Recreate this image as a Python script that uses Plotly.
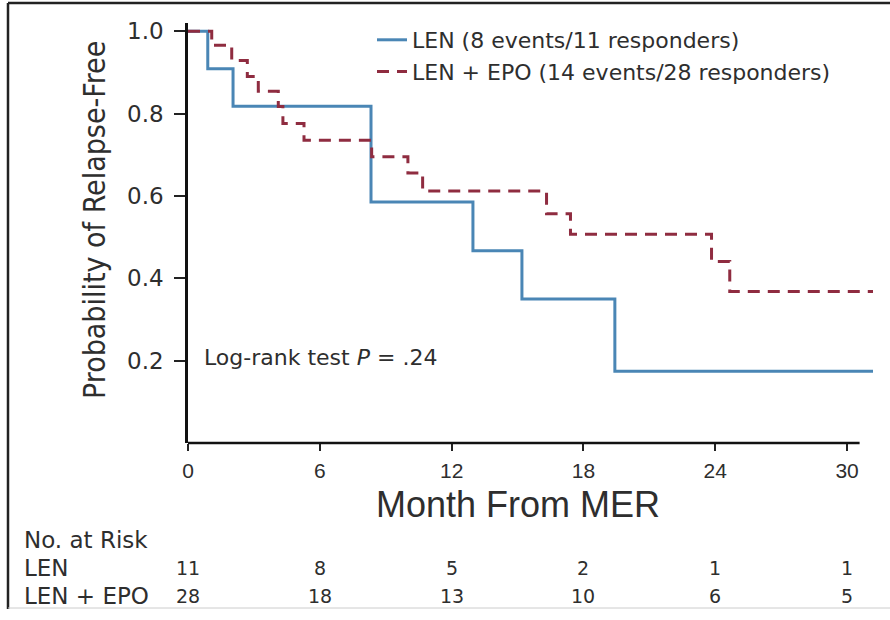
import plotly.graph_objects as go

# ---- data ----
len_time = [0, 0.9, 2.05, 8.33, 12.97, 15.2, 19.43, 31.18]
len_surv = [1.0, 0.909, 0.818, 0.585, 0.467, 0.350, 0.174, 0.174]

epo_time = [0, 1.08, 1.99, 2.70, 3.20, 4.11, 4.32, 5.28, 8.36, 10.01, 10.68,
            16.32, 17.41, 23.83, 24.66, 31.18]
epo_surv = [1.0, 0.966, 0.929, 0.890, 0.854, 0.817, 0.776, 0.735, 0.695, 0.656,
            0.612, 0.557, 0.507, 0.441, 0.368, 0.368]

x_ticks = [0, 6, 12, 18, 24, 30]
y_ticks = [0.2, 0.4, 0.6, 0.8, 1.0]
y_tick_labels = ["0.2", "0.4", "0.6", "0.8", "1.0"]

risk_times = [0, 6, 12, 18, 24, 30]
len_risk = [11, 8, 5, 2, 1, 1]
epo_risk = [28, 18, 13, 10, 6, 5]

series_names = ["LEN (8 events/11 responders)", "LEN + EPO (14 events/28 responders)"]
risk_labels = ["No. at Risk", "LEN", "LEN + EPO"]

BLUE = "#4a86b5"
RED = "#8f2c40"
TXT = "#2e2e2e"
WIDE = "DejaVu Sans, Verdana, sans-serif"
NARROW = "DejaVu Sans Condensed, Liberation Sans Narrow, Arial Narrow, sans-serif"
ARIAL = "Liberation Sans, Arial, Helvetica, sans-serif"

W, H = 890, 620
L, R, T, B = 188, 17, 23, 177
pw, ph = W - L - R, H - T - B


def px_x(px):
    return (px - L) / pw


def px_y(py):
    return (H - B - py) / ph


fig = go.Figure()
fig.add_trace(go.Scatter(x=len_time, y=len_surv, mode="lines", line_shape="hv",
                         line=dict(color=BLUE, width=3), name=series_names[0]))
fig.add_trace(go.Scatter(x=epo_time, y=epo_surv, mode="lines", line_shape="hv",
                         line=dict(color=RED, width=3, dash="12px,8px"), name=series_names[1]))

fig.update_layout(
    width=W, height=H,
    margin=dict(l=L, r=R, t=T, b=B, pad=0),
    paper_bgcolor="white", plot_bgcolor="white",
    showlegend=True,
    legend=dict(x=px_x(372), y=px_y(19), xanchor="left", yanchor="top",
                bgcolor="rgba(0,0,0,0)", font=dict(family=WIDE, size=22, color=TXT),
                tracegroupgap=0, itemwidth=30),
    xaxis=dict(range=[0, 31.18], tickvals=x_ticks, ticks="outside", ticklen=7,
               tickwidth=1.5, tickcolor="#222", showline=False, showgrid=False,
               zeroline=False, tickfont=dict(family=ARIAL, size=21, color=TXT),
               ticklabelstandoff=2),
    yaxis=dict(range=[0, 1.02], tickvals=y_ticks, ticktext=y_tick_labels,
               ticks="outside", ticklen=11, tickwidth=1.5, tickcolor="#222",
               showline=True, linecolor="#111", linewidth=2.5, showgrid=False,
               zeroline=False, tickfont=dict(family=WIDE, size=23, color=TXT),
               ticklabelstandoff=6),
)

# x-axis line (ends a little before the curves, as in the reference)
fig.add_shape(type="line", xref="x", yref="paper", x0=0, x1=30.57, y0=0, y1=0,
              line=dict(color="#111", width=2.5))

# frame around the figure
fig.add_shape(type="line", xref="paper", yref="paper", x0=px_x(8), x1=px_x(890),
              y0=px_y(3), y1=px_y(3), line=dict(color="#222", width=2.5))
fig.add_shape(type="line", xref="paper", yref="paper", x0=px_x(8), x1=px_x(8),
              y0=px_y(3), y1=px_y(609), line=dict(color="#222", width=2.5))
fig.add_shape(type="line", xref="paper", yref="paper", x0=px_x(8), x1=px_x(890),
              y0=px_y(608), y1=px_y(608), line=dict(color="#cccccc", width=1))


def note(text, x, y, size, family=ARIAL, xanchor="center", xref="paper", angle=0):
    fig.add_annotation(text=text, xref=xref, yref="paper", x=x, y=y,
                       xanchor=xanchor, yanchor="middle", showarrow=False,
                       textangle=angle, font=dict(family=family, size=size, color=TXT))


# axis titles
note("Probability of Relapse-Free", px_x(94), px_y(220), 30, family=NARROW, angle=-90)
note("Month From MER", px_x(518), px_y(505), 36)

# log-rank annotation
note("Log-rank test <i>P</i> = .24", px_x(202), px_y(357), 22, family=WIDE, xanchor="left")

# risk table
for lbl, py in zip(risk_labels, [540, 568, 596]):
    note(lbl, px_x(22), px_y(py), 23, family=WIDE, xanchor="left")
for t, a, b in zip(risk_times, len_risk, epo_risk):
    note(str(a), t, px_y(568), 19, family=WIDE, xref="x")
    note(str(b), t, px_y(596), 19, family=WIDE, xref="x")

fig.write_html("out.html", config={"displayModeBar": False},
               post_script="document.body.style.margin='0px';")
